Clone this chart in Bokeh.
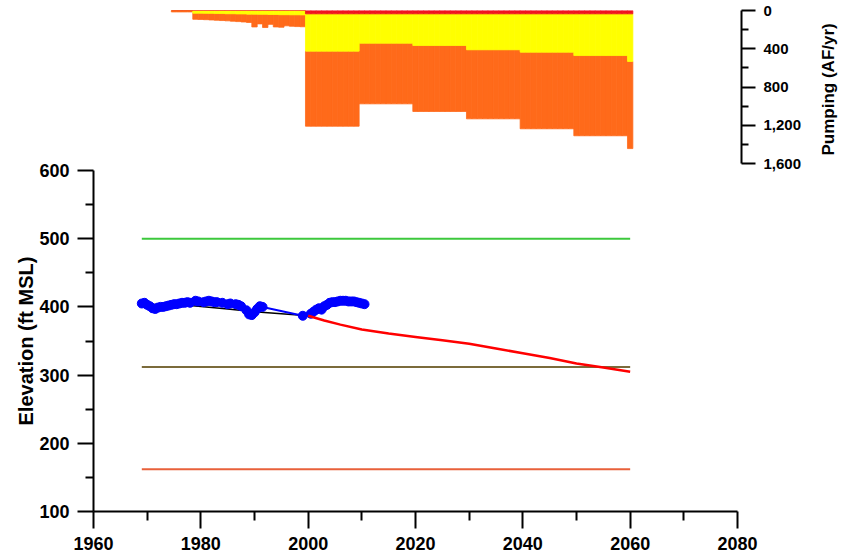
from bokeh.plotting import figure
from bokeh.models import Range1d, FixedTicker, NumeralTickFormatter, LinearAxis, ColumnDataSource, Title
from bokeh.layouts import row
from bokeh.embed import file_html
from bokeh.resources import INLINE

FONT = "Liberation Sans"

# ---------------- data ----------------
# observed groundwater elevation (ft MSL)
obs_year = [1969.0, 1969.5, 1970.0, 1970.5, 1971.0, 1971.5, 1972.0, 1972.5, 1973.0, 1973.5,
            1974.0, 1974.5, 1975.0, 1975.5, 1976.0, 1976.5, 1977.0, 1977.5, 1978.0, 1979.0,
            1979.5, 1980.5, 1981.0, 1981.5, 1982.0, 1982.5, 1983.0, 1984.0, 1985.0, 1985.5,
            1986.5, 1987.0, 1987.5, 1988.5, 1989.0, 1989.5, 1990.0, 1990.5, 1991.0, 1991.5,
            1999.0, 2000.5, 2001.0, 2001.5, 2002.0, 2002.5, 2003.0, 2003.5, 2004.0, 2004.5,
            2005.0, 2005.5, 2006.0, 2006.5, 2007.0, 2007.5, 2008.0, 2008.5, 2009.0, 2009.5,
            2010.0, 2010.5]
obs_elev = [405, 406, 403, 401, 398, 397, 399, 400, 400, 401,
            402, 403, 404, 404, 405, 406, 406, 407, 406, 409,
            408, 407, 408, 409, 408, 407, 407, 406, 404, 405,
            404, 403, 401, 395, 389, 388, 392, 397, 401, 400,
            387, 390, 393, 396, 398, 396, 401, 403, 406, 407,
            407, 408, 409, 409, 409, 408, 408, 408, 407, 406,
            405, 404]

# historical trend line
trend_year = [1970, 1978, 1985, 1990, 1995, 2000]
trend_elev = [404, 402, 397, 393, 390, 387]

# projected elevation
proj_year = [2000, 2003, 2006, 2010, 2015, 2020, 2025, 2030, 2035, 2040, 2045, 2050, 2055, 2060]
proj_elev = [387, 380, 374, 367, 361, 356, 351, 346, 339, 332, 325, 317, 311, 305]

# reference levels
ref_year = [1969, 2060]
level_green = 500
level_brown = 312
level_orange = 162

# pumping (AF/yr), one value per year 1975-2060
pump_year = list(range(1975, 2061))
pump_red = [0] * 25 + [35] * 61
pump_yellow = ([0, 0, 0, 0] +
               [28, 28, 30, 30, 32, 32, 34, 34, 36, 36, 38, 38, 40, 40, 42, 42, 44, 44, 45, 45, 46] +
               [390] * 10 + [307] * 10 + [331] * 10 + [376] * 10 + [401] * 10 + [436] * 10 + [498])
pump_orange = ([15, 15, 15, 15] +
               [64, 66, 66, 69, 70, 73, 74, 78, 80, 84, 87, 134, 100, 138, 103, 130, 131, 116, 120, 123, 124] +
               [785] * 10 + [634] * 10 + [690] * 10 + [722] * 10 + [801] * 10 + [839] * 10 + [911])

# axis ticks and titles
x_ticks = [1960, 1980, 2000, 2020, 2040, 2060, 2080]
x_minor = [1970, 1990, 2010, 2030, 2050, 2070]
elev_ticks = [100, 200, 300, 400, 500, 600]
elev_minor = [150, 250, 350, 450, 550]
pump_ticks = [0, 400, 800, 1200, 1600]
pump_minor = [200, 600, 1000, 1400]
elev_title = "Elevation (ft MSL)"
pump_title = "Pumping (AF/yr)"

# ---------------- layout constants (pixels) ----------------
LEFT = 93
TOP = 10
BOTTOM = 48
FRAME_W = 648
FRAME_H = 501
px_per_year = 644 / 120.0        # 1960..2080 spans 644 px
elev_per_px = 500 / 341.0        # 100..600 spans 341 px
pump_per_px = 1600 / 153.0       # 0..1600 spans 153 px

p = figure(frame_width=FRAME_W, frame_height=FRAME_H,
           x_range=Range1d(1960, 1960 + FRAME_W / px_per_year),
           y_range=Range1d(100, 100 + FRAME_H * elev_per_px),
           output_backend="svg", toolbar_location=None,
           min_border_left=LEFT, min_border_top=TOP, min_border_bottom=BOTTOM,
           min_border_right=75)
p.extra_y_ranges = {"pump": Range1d(start=FRAME_H * pump_per_px, end=0)}
p.grid.visible = False
p.outline_line_color = None


def style_axis(ax, tick_out, minor_out, label_size, standoff):
    ax.axis_line_width = 2
    ax.axis_line_color = "black"
    ax.major_tick_line_width = 2
    ax.minor_tick_line_width = 2
    ax.major_tick_line_color = "black"
    ax.minor_tick_line_color = "black"
    ax.major_tick_in = 0
    ax.minor_tick_in = 0
    ax.major_tick_out = tick_out
    ax.minor_tick_out = minor_out
    ax.major_label_text_font = FONT
    ax.major_label_text_font_style = "bold"
    ax.major_label_text_font_size = label_size
    ax.major_label_text_color = "black"
    ax.major_label_standoff = standoff


xa = p.xaxis[0]
xa.ticker = FixedTicker(ticks=x_ticks, minor_ticks=x_minor)
xa.bounds = (1960, 2080)
style_axis(xa, 17, 9, "18px", 8)

ya = p.yaxis[0]
ya.ticker = FixedTicker(ticks=elev_ticks, minor_ticks=elev_minor)
ya.bounds = (100, 600)
style_axis(ya, 16, 8, "18px", 8)

ra = LinearAxis(y_range_name="pump")
ra.ticker = FixedTicker(ticks=pump_ticks, minor_ticks=pump_minor)
ra.formatter = NumeralTickFormatter(format="0,0")
ra.bounds = (0, 1600)
style_axis(ra, 14, 7, "15px", 8)
p.add_layout(ra, "right")

# elevation title, reads bottom-to-top, starts 86 px above the frame bottom
p.add_layout(Title(text=elev_title, align="left", offset=86, standoff=0,
                   text_font=FONT, text_font_style="bold", text_font_size="20px",
                   text_color="black"), "left")

# pumping stacked bars (0 at top, increasing downward)
red_top = [0] * len(pump_year)
red_bot = [r for r in pump_red]
yel_bot = [r + y for r, y in zip(pump_red, pump_yellow)]
ora_bot = [r + y + o for r, y, o in zip(pump_red, pump_yellow, pump_orange)]
src = ColumnDataSource(dict(x=pump_year, r0=red_top, r1=red_bot, y1=yel_bot, o1=ora_bot))
p.vbar(x="x", width=1, bottom="y1", top="o1", source=src, y_range_name="pump",
       fill_color="#FF6A1A", line_color="#FF6A1A", line_width=0.8)
p.vbar(x="x", width=1, bottom="r1", top="y1", source=src, y_range_name="pump",
       fill_color="#FFFF00", line_color="#FFFF00", line_width=0.8)
p.vbar(x="x", width=1, bottom="r0", top="r1", source=src, y_range_name="pump",
       fill_color="#F0141E", line_color="#F0141E", line_width=0.8)

# reference levels
p.line(ref_year, [level_green] * 2, line_color="#3CC83C", line_width=2)
p.line(ref_year, [level_brown] * 2, line_color="#7B6B3B", line_width=2)
p.line(ref_year, [level_orange] * 2, line_color="#E8603A", line_width=2)

# trend, observed, projection
p.line(trend_year, trend_elev, line_color="black", line_width=1.5)
p.line(obs_year, obs_elev, line_color="#0000FF", line_width=2)
p.scatter(obs_year, obs_elev, size=9, fill_color="#0000FF", line_color="#0000FF")
p.line(proj_year, proj_elev, line_color="#FF0000", line_width=2.5)

# narrow companion figure carrying the pumping title (reads bottom-to-top)
ttl = figure(frame_width=4, frame_height=FRAME_H,
             x_axis_location=None, y_axis_location=None,
             output_backend="svg", toolbar_location=None,
             min_border_left=0, min_border_right=0,
             min_border_top=TOP, min_border_bottom=BOTTOM)
ttl.outline_line_color = None
ttl.add_layout(Title(text=pump_title, align="left", offset=356, standoff=0,
                     text_font=FONT, text_font_style="bold", text_font_size="17px",
                     text_color="black"), "left")

layout = row(p, ttl)
open("out.html", "w").write(file_html(layout, INLINE))
